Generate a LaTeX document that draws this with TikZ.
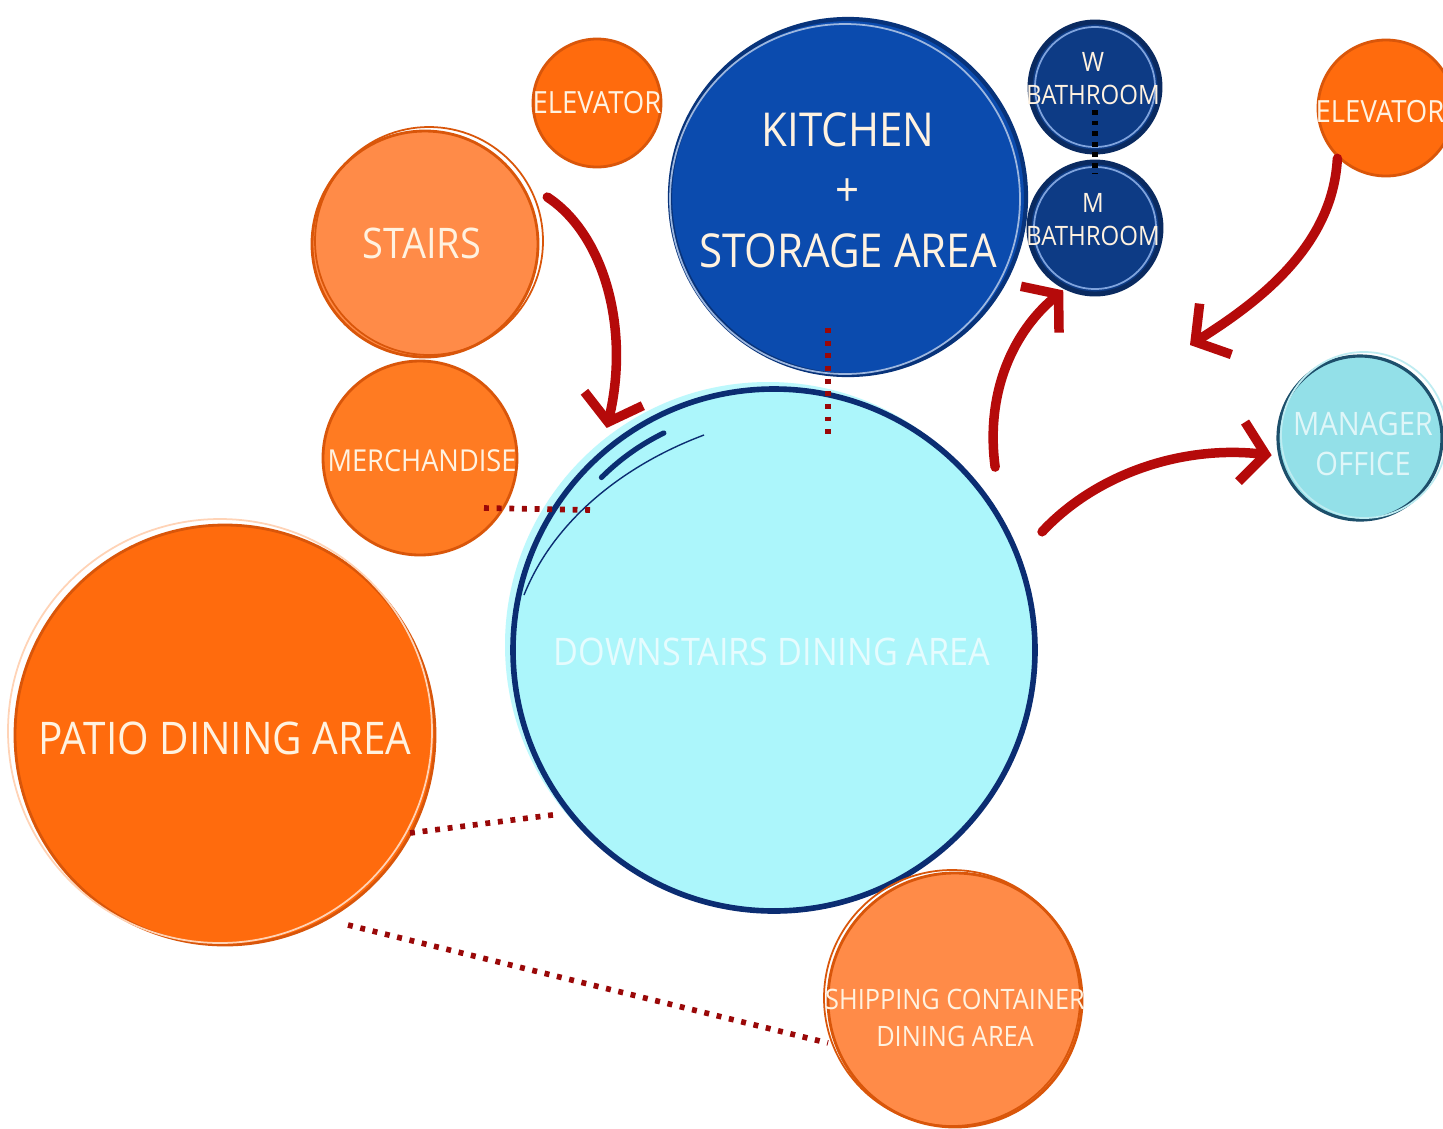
\documentclass[tikz,border=0pt]{standalone}
\usepackage{fontspec}
\setmainfont[FakeStretch=0.9]{Open Sans}
\usetikzlibrary{arrows.meta,calc}
\definecolor{orBright}{HTML}{FF6B0D}
\definecolor{orMid}{HTML}{FF7B22}
\definecolor{orLight}{HTML}{FF8B48}
\definecolor{orEdge}{HTML}{D9560A}
\definecolor{kitBlue}{HTML}{0B4BAE}
\definecolor{kitEdge}{HTML}{08337A}
\definecolor{bathBlue}{HTML}{0D3B85}
\definecolor{bathEdge}{HTML}{0A2A60}
\definecolor{bathRing}{HTML}{7FA3DD}
\definecolor{downFill}{HTML}{ACF6FB}
\definecolor{downEdge}{HTML}{0B2D72}
\definecolor{mgrFill}{HTML}{93E0E8}
\definecolor{mgrEdge}{HTML}{1D4F6B}
\definecolor{redArrow}{HTML}{B50A0A}
\definecolor{txtCream}{HTML}{FFF2E0}
\newcommand\fsz[2]{\fontsize{#1}{#2}\selectfont}
\tikzset{
  room/.style={circle, inner sep=0pt, align=center, text=txtCream, line width=0.8pt},
  orroom/.style={room, draw=orEdge},
  label text/.style={text=txtCream, align=center, inner sep=0pt},
  flowarrow/.style={draw=redArrow, line width=2.7pt, line cap=round,
     -{Straight Barb[length=0.24cm, width=0.6cm, line width=2.7pt]}},
  dotlink/.style={draw=redArrow!85!black, line width=1.6pt, dash pattern=on 1.4pt off 2.2pt},
  bathlink/.style={draw=black, line width=1.6pt, dash pattern=on 1.4pt off 1.6pt},
  sketch/.style={line width=0.5pt}
}
\begin{document}
\begin{tikzpicture}
\useasboundingbox[fill=white] (0,0) rectangle (14.43,-11.28);

% ---- downstairs dining (halo + main)
\fill[downFill!80!white] (7.68,-6.45) circle (2.63);
\node[room, fill=downFill, draw=downEdge, line width=1.6pt, minimum size=5.22cm] (down) at (7.74,-6.50) {};
\node[label text, text=white!70!downFill, font=\fsz{10.8}{13}] (downT) at (7.72,-6.52) {DOWNSTAIRS DINING AREA};
\draw[downEdge, line width=1.5pt, line cap=round] ($(down.center)+(135:2.44)$) arc (135:116:2.32);
\draw[downEdge, line width=0.4pt] ($(down.center)+(-0.70,2.15)$) .. controls ($(down.center)+(-1.50,1.85)$) and ($(down.center)+(-2.20,1.30)$) .. ($(down.center)+(-2.50,0.55)$);

% ---- kitchen
\node[room, fill=kitBlue, draw=kitEdge, line width=1.2pt, minimum size=3.56cm] (kitchen) at (8.48,-1.97) {};
\draw[white!60!kitBlue, sketch] ($(kitchen.center)+(-0.03,-0.02)$) circle (1.75);
\node[label text, font=\fsz{13.3}{17.2}] (kitchenT) at (8.48,-1.90) {KITCHEN\\+\\STORAGE AREA};

% ---- bathrooms
\node[room, fill=bathBlue, draw=bathEdge, line width=1.4pt, minimum size=1.30cm] (wbath) at (10.95,-0.87) {};
\draw[bathRing, sketch] (wbath.center) circle (0.6);
\node[label text, font=\fsz{7.6}{9.4}] (wbathT) at (10.93,-0.79) {W\\BATHROOM};
\node[room, fill=bathBlue, draw=bathEdge, line width=1.4pt, minimum size=1.32cm] (mbath) at (10.95,-2.28) {};
\draw[bathRing, sketch] (mbath.center) circle (0.61);
\node[label text, font=\fsz{7.6}{9.4}] (mbathT) at (10.93,-2.20) {M\\BATHROOM};
\draw[bathlink] ($(wbath.center)+(0,-0.23)$) -- ($(mbath.center)+(0,0.54)$);

% ---- orange rooms
\node[orroom, fill=orBright, minimum size=1.28cm] (elev1) at (5.97,-1.03) {};
\node[label text, font=\fsz{8.7}{10}] (elev1T) at (5.97,-1.03) {ELEVATOR};
\node[orroom, fill=orLight, minimum size=2.26cm] (stairs) at (4.25,-2.44) {};
\draw[orEdge, sketch] ($(stairs.center)+(0.04,0.03)$) circle (1.14);
\node[label text, font=\fsz{12}{14}] (stairsT) at (4.22,-2.43) {STAIRS};
\node[orroom, fill=orMid, minimum size=1.94cm] (merch) at (4.20,-4.58) {};
\node[label text, font=\fsz{8.6}{10}] (merchT) at (4.22,-4.61) {MERCHANDISE};
\node[orroom, fill=orBright, minimum size=4.20cm] (patio) at (2.25,-7.35) {};
\draw[white!70!orBright, sketch] ($(patio.center)+(-0.05,0.04)$) circle (2.12);
\node[label text, font=\fsz{12.8}{15}] (patioT) at (2.25,-7.38) {PATIO DINING AREA};
\node[orroom, fill=orBright, minimum size=1.36cm] (elev2) at (13.86,-1.08) {};
\node[label text, font=\fsz{8.7}{10}] (elev2T) at (13.80,-1.12) {ELEVATOR};
\node[orroom, fill=orLight, minimum size=2.54cm] (ship) at (9.55,-10.00) {};
\draw[orEdge, sketch] ($(ship.center)+(-0.03,0.02)$) circle (1.28);
\node[label text, font=\fsz{8.0}{10.6}] (shipT) at (9.55,-10.18) {SHIPPING CONTAINER\\DINING AREA};

% ---- manager office
\node[room, fill=mgrFill, draw=mgrEdge, line width=0.9pt, minimum size=1.64cm] (mgr) at (13.60,-4.38) {};
\draw[white!40!mgrFill, sketch] ($(mgr.center)+(0.04,0.03)$) circle (0.83);
\node[label text, text=white!70!mgrFill, font=\fsz{9.2}{11.6}] (mgrT) at (13.63,-4.44) {MANAGER\\OFFICE};

% ---- dotted relations
\draw[dotlink] ($(kitchen.center)+(-0.20,-1.31)$) -- ($(down.center)+(0.54,2.10)$);
\draw[dotlink] ($(merch.center)+(0.64,-0.50)$) -- ($(down.center)+(-1.84,1.40)$);
\draw[dotlink] ($(patio.center)+(1.85,-0.98)$) -- ($(down.center)+(-2.14,-1.64)$);
\draw[dotlink] ($(patio.center)+(1.23,-1.90)$) -- ($(ship.center)+(-1.27,-0.43)$);

% ---- flow arrows
\coordinate (flowTip) at (11.90,-3.45);
\draw[flowarrow] ($(stairs.center)+(21:1.31)$) .. controls (6.05,-2.35) and (6.30,-3.30) .. ($(down.center)+(127:2.78)$);
\draw[flowarrow] ($(elev2.center)+(226:0.70)$) .. controls (13.33,-2.40) and (12.70,-2.95) .. (flowTip);
\draw[flowarrow] ($(down.center)+(39.6:2.87)$) .. controls (9.85,-3.90) and (10.15,-3.30) .. ($(mbath.center)+(243:0.70)$);
\draw[flowarrow] ($(down.center)+(23.8:2.93)$) .. controls (10.95,-4.75) and (11.80,-4.45) .. ($(mgr.center)+(191:0.90)$);
\end{tikzpicture}
\end{document}
